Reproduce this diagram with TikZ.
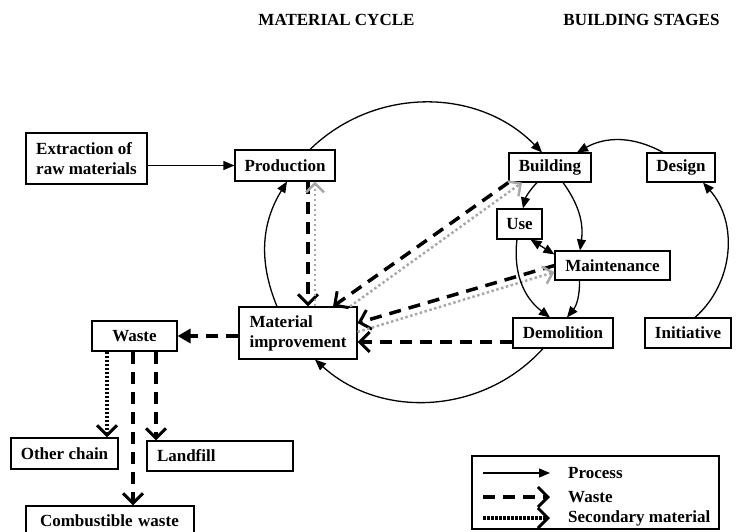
\documentclass[tikz,border=0pt]{standalone}
\usepackage{fontspec}
\setmainfont{Liberation Serif}
\usetikzlibrary{arrows.meta,positioning}
\definecolor{secgray}{RGB}{168,168,168}

\begin{document}
\begin{tikzpicture}[x=1pt,y=-1pt,
    font=\fontsize{17}{20}\selectfont\bfseries,
    >={Triangle[length=11pt,width=9pt]},
    box/.style={draw,line width=1.1pt,inner sep=0pt,minimum height=30pt},
    process/.style={line width=1.3pt,->},
    waste/.style={line width=3.5pt,dash pattern=on 12pt off 8pt,
      -{Straight Barb[length=10pt,width=20pt,line width=3pt]}},
    secondary/.style={line width=3.5pt,dash pattern=on 2.5pt off 1.5pt,
      -{Straight Barb[length=10pt,width=20pt,line width=3pt]}},
    secback/.style={secgray,line width=2.5pt,dash pattern=on 2.5pt off 2.5pt,
      -{Straight Barb[length=9pt,width=18pt,line width=2.5pt]}}]
  \useasboundingbox (0,0) rectangle (737,531);

  \node (mctitle) at (336.5,20) {MATERIAL CYCLE};
  \node (bstitle) at (641.5,20) {BUILDING STAGES};

  \node[box,minimum width=121pt,minimum height=51pt,align=left] (extr) at (86.5,158.5)
    {Extraction of\\raw materials};
  \node[box,minimum width=100pt,minimum height=31pt] (prod) at (285,165.5) {Production};
  \node[box,minimum width=118pt,minimum height=52pt,align=left] (mi) at (298,333)
    {Material\\improvement};
  \node[box,minimum width=85pt] (waste) at (134.5,336) {Waste};
  \node[box,minimum width=107pt,minimum height=31pt] (other) at (64.5,453.5) {Other chain};
  \node[box,text width=126pt,inner xsep=10pt,align=left] (landfill) at (220,456) {Landfill};
  \node[box,text width=140pt,inner xsep=14pt,align=left] (comb) at (110,521) {Combustible waste};

  \node[box,minimum width=82pt,minimum height=29pt] (bld) at (550,167.5) {Building};
  \node[box,minimum width=68pt,minimum height=29pt] (design) at (681,167.5) {Design};
  \node[box,minimum width=45pt] (use) at (519.5,224) {Use};
  \node[box,minimum width=115pt,minimum height=29pt] (maint) at (612.5,265.5) {Maintenance};
  \node[box,minimum width=100pt] (demol) at (563,333) {Demolition};
  \node[box,minimum width=86pt] (init) at (688,333) {Initiative};

  % material cycle
  \draw[process] (extr.east |- prod) -- (prod.west);
  \draw[process] ([xshift=25pt]prod.north) to[bend left=45] ([xshift=-8pt]bld.north);
  \draw[process] ([xshift=-20pt]demol.south) to[bend left=45] ([xshift=17pt]mi.south);
  \draw[process] ([xshift=-21pt]mi.north) to[bend left=27] ([xshift=2pt]prod.south);

  \draw[waste] ([xshift=23pt]prod.south) -- ([xshift=10pt]mi.north);
  \draw[secback] ([xshift=17pt]mi.north) -- ([xshift=30pt]prod.south);
  \draw[waste] (bld.south west) -- ([xshift=35pt]mi.north);
  \draw[secback] ([xshift=52pt]mi.north) -- ([xshift=-28pt]bld.south);
  \draw[waste] (maint.west) -- ([yshift=10pt]mi.east);
  \draw[secback] ([yshift=1pt]mi.east) -- ([yshift=-6.5pt]maint.west);
  \draw[waste] ([yshift=-9pt]demol.west) -- ([yshift=-9pt]mi.east);
  \draw[waste,-{Triangle[length=13pt,width=14pt]}] (mi.west |- waste.east) -- (waste.east);

  \draw[secondary] ([xshift=-27.5pt]waste.south) -- ([xshift=42.5pt]other.north);
  \draw[waste] ([xshift=-1.5pt]waste.south) -- ([xshift=23pt]comb.north);
  \draw[waste] ([xshift=21.5pt]waste.south) -- ([xshift=-64pt]landfill.north);

  % building stages
  \draw[process] ([xshift=-13pt]bld.south) to[bend right=15] ([xshift=3.5pt]use.north);
  \draw[process] ([xshift=13pt]bld.south) to[bend left=22] ([xshift=-32.5pt]maint.north);
  \draw[process] ([xshift=-2.5pt]use.south) to[bend right=30] ([xshift=-13pt]demol.north);
  \draw[process] ([xshift=-33pt]maint.south) to[bend left=20] ([xshift=4pt]demol.north);
  \draw[process,<->] ([xshift=-12pt]use.south east) -- ([yshift=-4pt]maint.north west);
  \draw[process] ([xshift=-18pt]design.north) to[bend right=29] ([xshift=27pt]bld.north);
  \draw[process] ([xshift=7pt]init.north) to[bend right=45] ([xshift=22pt]design.south);

  % legend
  \node[draw,line width=1.1pt,minimum width=247pt,minimum height=73pt] (legend) at (595.5,492.5) {};
  \node[anchor=west,inner sep=0pt] (lgproc) at (568,473) {Process};
  \node[anchor=west,inner sep=0pt] (lgwaste) at (568,497) {Waste};
  \node[anchor=west,inner sep=0pt] (lgsec) at (568,518) {Secondary material};
  \coordinate (lgp) at (483,473);
  \coordinate (lgw) at (483,497);
  \coordinate (lgs) at (483,518);
  \draw[process] (lgp) -- ([xshift=-18pt]lgproc.west);
  \draw[waste] (lgw) -- ([xshift=-18pt]lgwaste.west);
  \draw[secondary] (lgs) -- ([xshift=-18pt]lgsec.west);
\end{tikzpicture}
\end{document}
